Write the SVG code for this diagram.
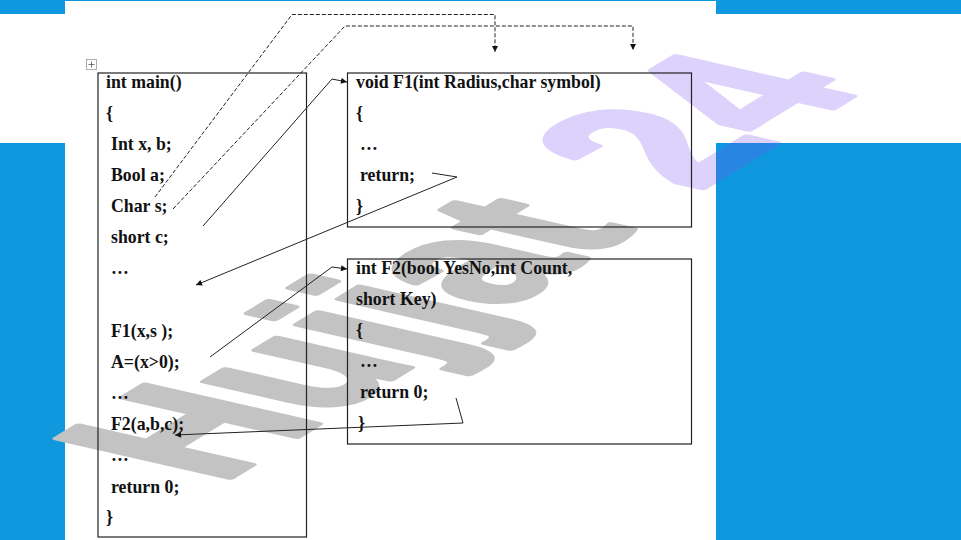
<svg xmlns="http://www.w3.org/2000/svg" width="961" height="540" viewBox="0 0 961 540">
<defs>
<style>
.code{font-family:"Liberation Serif","Times New Roman",serif;font-weight:bold;font-size:17.8px;fill:#111}
.box{fill:none;stroke:#222;stroke-width:1.2}
.solid{fill:none;stroke:#222;stroke-width:1}
.dash{fill:none;stroke:#222;stroke-width:1;stroke-dasharray:4 2}
.wm{font-family:"Liberation Sans",Arial,sans-serif;font-weight:bold;stroke-linejoin:round}
</style>
<marker id="ah" viewBox="0 0 10 10" refX="10" refY="5" markerWidth="7" markerHeight="6" markerUnits="userSpaceOnUse" orient="auto">
<path d="M0,0 L10,5 L0,10 Z" fill="#111"/>
</marker>
</defs>
<g id="background">
<rect x="0" y="0" width="961" height="540" fill="#0f98de"/>
<rect x="0" y="14" width="961" height="129" fill="#ffffff"/>
<rect x="65" y="1" width="651" height="539" fill="#ffffff"/>
</g>
<g id="watermark" transform="matrix(1.5 -0.92 2.51 0.57 220 484)">
<text class="wm" x="0" y="0" font-size="100" fill="#c3c3c3" stroke="#c3c3c3" stroke-width="3.5">Hujjat</text>
<text class="wm" x="318" y="0" font-size="102" fill="#7850f0" stroke="#7850f0" stroke-width="3.5" opacity="0.25">24</text>
</g>
<g id="move-handle">
<rect x="86.5" y="59.5" width="10" height="10" fill="#fff" stroke="#999" stroke-width="0.8"/>
<path d="M91.5,61.5 V67.5 M88.5,64.5 H94.5" stroke="#555" stroke-width="0.8"/>
</g>
<g id="main">
<rect class="box" x="98" y="73" width="208.5" height="464"/>
<text class="code" x="106" y="88">int main()</text>
<text class="code" x="106" y="119">{</text>
<text class="code" x="111" y="150">Int x, b;</text>
<text class="code" x="111" y="181">Bool a;</text>
<text class="code" x="111" y="212">Char s;</text>
<text class="code" x="111" y="243">short c;</text>
<text class="code" x="111" y="274">…</text>
<text class="code" x="111" y="337">F1(x,s );</text>
<text class="code" x="111" y="368">A=(x&gt;0);</text>
<text class="code" x="111" y="399">…</text>
<text class="code" x="111" y="430">F2(a,b,c);</text>
<text class="code" x="111" y="461">…</text>
<text class="code" x="111" y="493">return 0;</text>
<text class="code" x="106" y="523">}</text>
</g>
<g id="F1">
<rect class="box" x="347.5" y="73" width="344" height="154"/>
<text class="code" x="356" y="88">void F1(int Radius,char symbol)</text>
<text class="code" x="356" y="119">{</text>
<text class="code" x="360" y="150">…</text>
<text class="code" x="360" y="181">return;</text>
<text class="code" x="356" y="212">}</text>
</g>
<g id="F2">
<rect class="box" x="347.5" y="259" width="344" height="185"/>
<text class="code" x="356" y="274">int F2(bool YesNo,int Count,</text>
<text class="code" x="356" y="305">short Key)</text>
<text class="code" x="356" y="336">{</text>
<text class="code" x="360" y="367">…</text>
<text class="code" x="360" y="398">return 0;</text>
<text class="code" x="358" y="429">}</text>
</g>
<g id="connectors">
<path class="dash" d="M155,197 L292,14.5 L495,14.5 L495,52" marker-end="url(#ah)"/>
<path class="dash" d="M173,209 L345,26 L633,26 L633,50" marker-end="url(#ah)"/>
<path class="solid" d="M203,226 L332,79 L347,82" marker-end="url(#ah)"/>
<path class="solid" d="M432,173 L457,177 L196,285" marker-end="url(#ah)"/>
<path class="solid" d="M210,357 L332,267 L347,269" marker-end="url(#ah)"/>
<path class="solid" d="M456,398 L463,423 L175,435" marker-end="url(#ah)"/>
</g>
</svg>
